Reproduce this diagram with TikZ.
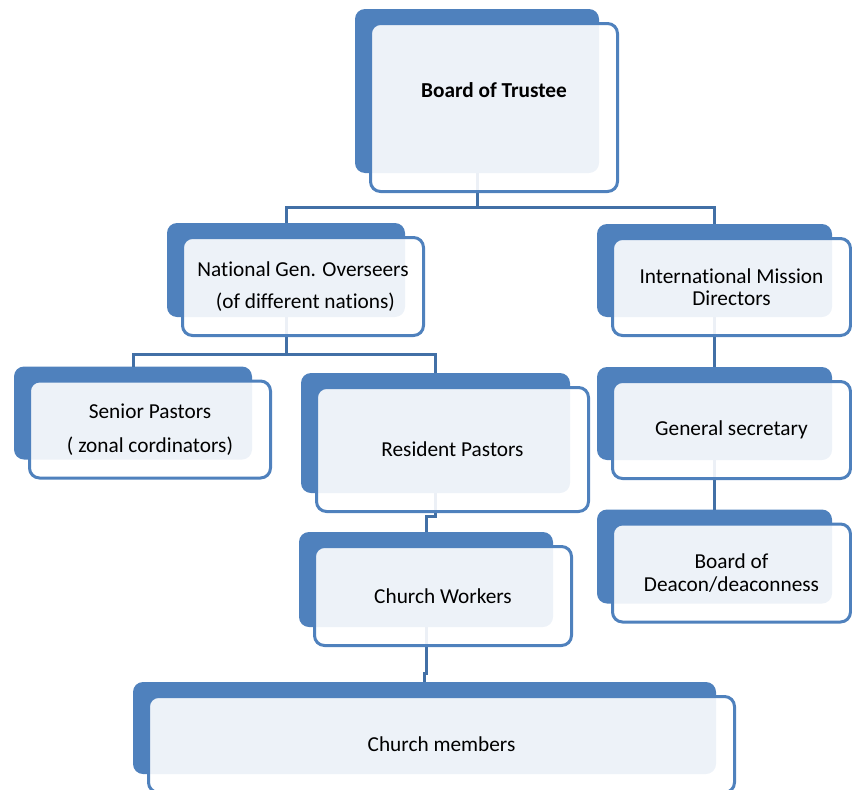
\documentclass[tikz,border=0pt]{standalone}
\usepackage{fontspec}
\setmainfont[Ligatures=NoCommon]{Carlito}
\usetikzlibrary{positioning,backgrounds}
\definecolor{boxblue}{HTML}{4F81BD}
\definecolor{lineblue}{HTML}{4270A6}
\begin{document}
\begin{tikzpicture}[node distance=143pt]
\tikzstyle{block} = [rectangle, rounded corners=10pt, draw=boxblue, line width=3pt, fill=white, fill opacity=0.9, text opacity=1, align=center, font=\fontsize{21.3}{22.5}\selectfont]
\tikzstyle{back} = [fill=boxblue, rounded corners=10pt]
\tikzstyle{line} = [draw=lineblue, line width=3pt]
%
\useasboundingbox (0,0) rectangle (852pt,-790pt);
%
\node (1) [block, minimum width=247pt, minimum height=168pt] at (494pt,-107.5pt) {\textbf{Board of Trustee}\\[12pt]\mbox{}};
\node (2) [block, below of=1, xshift=-191pt, yshift=-36pt, minimum width=241pt, minimum height=98pt]  {National Gen. Overseers\\[9.5pt]\ (of different nations)};
\node (3) [block, below of=1, xshift=237.5pt, yshift=-36.5pt, minimum width=238pt, minimum height=97pt] {International Mission\\[-0.5pt]Directors};
\node (4) [block, below of=2, xshift=-153pt, minimum width=241pt, minimum height=97pt]                  {Senior Pastors\\[11.5pt]( zonal cordinators)};
\node (5) [block, below of=2, xshift=149.5pt, yshift=-20pt, minimum width=272pt, minimum height=124pt]  {Resident Pastors};
\node (6) [block, below of=3, minimum width=238pt, minimum height=97pt]                                 {General secretary};
\node (7) [block, below of=5, xshift=-9.5pt, yshift=-3.5pt, minimum width=257pt, minimum height=99pt]   {Church Workers};
\node (8) [block, below of=6, minimum width=238pt, minimum height=98pt]                                 {Board of\\[0.5pt]Deacon/deaconness};
\node (9) [block, below of=7, xshift=-1.5pt, yshift=-5.5pt, minimum width=586pt, minimum height=96pt]   {Church members};
%
\begin{scope}[on background layer]
\foreach \n in {1,...,9}
  \fill [back] ([shift={(-14pt,13pt)}]\n.north west) rectangle ([shift={(-20pt,20pt)}]\n.south east);
%
\draw [line] ([shift={(-17pt,20pt)}]1.south) -- ++(0,-34pt) -| ([shift={(-17pt,13pt)}]2.north);
\draw [line] ([shift={(-17pt,20pt)}]1.south) -- ++(0,-34pt) -| ([shift={(-17pt,13pt)}]3.north);
\draw [line] ([shift={(-17pt,20pt)}]2.south) -- ++(0,-37pt) -| ([shift={(-17pt,13pt)}]4.north);
\draw [line] ([shift={(-17pt,20pt)}]2.south) -- ++(0,-37pt) -| ([shift={(-17pt,13pt)}]5.north);
\draw [line] ([shift={(-17pt,20pt)}]5.south) -- ++(0,-23pt) -| ([shift={(-17pt,13pt)}]7.north);
\draw [line] ([shift={(-17pt,20pt)}]7.south) -- ++(0,-46pt) -| ([shift={(-17pt,13pt)}]9.north);
\draw [line] ([shift={(-17pt,20pt)}]3.south) -- ([shift={(-17pt,13pt)}]6.north);
\draw [line] ([shift={(-17pt,20pt)}]6.south) -- ([shift={(-17pt,13pt)}]8.north);
\end{scope}
\end{tikzpicture}
\end{document}
